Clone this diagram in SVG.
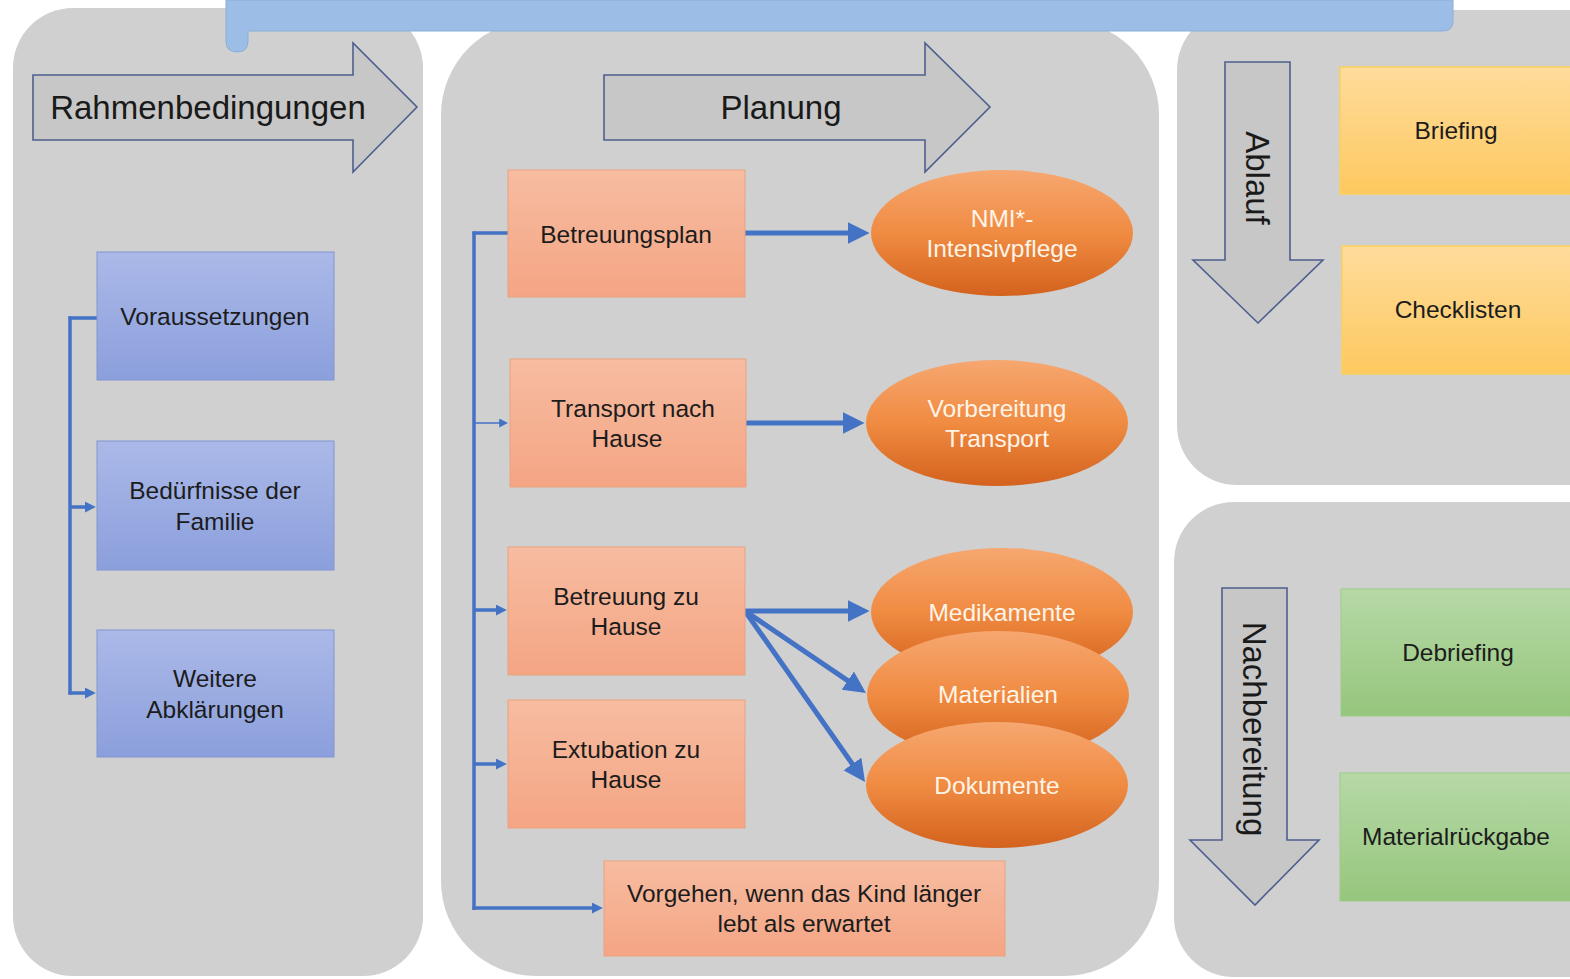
<svg xmlns="http://www.w3.org/2000/svg" width="1570" height="979" viewBox="0 0 1570 979">
<defs>
<style>
.panel{fill:#d0d0d0}
.bigarrow{fill:#c7c7c7;stroke:#4e5f8f;stroke-width:1.6}
.t{font-family:"Liberation Sans",Arial,sans-serif;font-size:24.5px;fill:#1c1c1c;text-anchor:middle}
.tw{font-family:"Liberation Sans",Arial,sans-serif;font-size:24.5px;fill:#fff4e8;text-anchor:middle}
.big{font-family:"Liberation Sans",Arial,sans-serif;font-size:33px;fill:#1a1a1a;text-anchor:middle}
.conn{stroke:#4472c4;fill:none}
</style>
<linearGradient id="gBlue" x1="0" y1="0" x2="0" y2="1"><stop offset="0" stop-color="#abb9e8"/><stop offset="1" stop-color="#8b9fdc"/></linearGradient>
<linearGradient id="gSalmon" x1="0" y1="0" x2="0" y2="1"><stop offset="0" stop-color="#f7bca1"/><stop offset="1" stop-color="#f4a584"/></linearGradient>
<linearGradient id="gYellow" x1="0" y1="0" x2="0" y2="1"><stop offset="0" stop-color="#ffdc9c"/><stop offset="1" stop-color="#fdc95f"/></linearGradient>
<linearGradient id="gGreen" x1="0" y1="0" x2="0" y2="1"><stop offset="0" stop-color="#b6d9a6"/><stop offset="1" stop-color="#96c67d"/></linearGradient>
<linearGradient id="gOrange" x1="0" y1="0" x2="0" y2="1"><stop offset="0" stop-color="#f6a770"/><stop offset="0.5" stop-color="#f08b42"/><stop offset="1" stop-color="#d3621d"/></linearGradient>
<marker id="mBig" viewBox="0 0 20 20" markerWidth="22" markerHeight="22" markerUnits="userSpaceOnUse" refX="4" refY="10" orient="auto"><path d="M0,0 L20,10 L0,20 z" fill="#4472c4"/></marker>
<marker id="mSmall" viewBox="0 0 10 10" markerWidth="11" markerHeight="11" markerUnits="userSpaceOnUse" refX="2" refY="5" orient="auto"><path d="M0,0 L10,5 L0,10 z" fill="#4472c4"/></marker>
<marker id="mTiny" viewBox="0 0 10 10" markerWidth="9" markerHeight="9" markerUnits="userSpaceOnUse" refX="2" refY="5" orient="auto"><path d="M0,0 L10,5 L0,10 z" fill="#4472c4"/></marker>
</defs>
<rect width="1570" height="979" fill="#ffffff"/>

<g id="panels">
<rect class="panel" x="13" y="8" width="410" height="968" rx="60" ry="60"/>
<rect class="panel" x="441" y="20" width="718" height="956" rx="95" ry="95"/>
<rect class="panel" x="1177" y="10" width="460" height="475" rx="60" ry="60"/>
<rect class="panel" x="1174" y="502" width="460" height="475" rx="60" ry="60"/>
</g>

<g id="topbar">
<path d="M226,0 L1453,0 L1453,21 Q1453,31 1443,31 L248,31 L248,41 Q248,52 237,52 Q226,52 226,41 Z" fill="#9cbde6" stroke="#8aaedb" stroke-width="1"/>
</g>

<g id="rahmenbedingungen">
<path class="bigarrow" d="M33,75 L353,75 L353,43 L417,107 L353,172 L353,140 L33,140 Z"/>
<text class="big" x="208" y="119">Rahmenbedingungen</text>
</g>

<g id="planung">
<path class="bigarrow" d="M604,75 L925,75 L925,43 L990,107 L925,172 L925,140 L604,140 Z"/>
<text class="big" x="781" y="119">Planung</text>
</g>

<g id="ablauf">
<path class="bigarrow" d="M1225,62 L1290,62 L1290,260 L1323,260 L1258,323 L1193,260 L1225,260 Z"/>
<text class="big" font-size="32" transform="translate(1246,178) rotate(90)" x="0" y="0">Ablauf</text>
</g>

<g id="nachbereitung">
<path class="bigarrow" d="M1222,588 L1287,588 L1287,840 L1319,840 L1255,905 L1190,840 L1222,840 Z"/>
<text class="big" font-size="32" transform="translate(1243,729) rotate(90)" x="0" y="0">Nachbereitung</text>
</g>

<g id="connectors">
<line class="conn" stroke-width="3.5" x1="70" y1="316.5" x2="70" y2="694.5"/>
<line class="conn" stroke-width="3.5" x1="68.5" y1="318" x2="100" y2="318"/>
<line class="conn" stroke-width="3.5" x1="70" y1="507" x2="87" y2="507" marker-end="url(#mSmall)"/>
<line class="conn" stroke-width="3.5" x1="68.5" y1="693" x2="87" y2="693" marker-end="url(#mSmall)"/>

<line class="conn" stroke-width="3.5" x1="474" y1="231.5" x2="474" y2="910"/>
<line class="conn" stroke-width="3.5" x1="472.5" y1="233" x2="508" y2="233"/>
<line class="conn" stroke-width="1.5" x1="474" y1="423" x2="501" y2="423" marker-end="url(#mTiny)"/>
<line class="conn" stroke-width="3.5" x1="474" y1="610" x2="498" y2="610" marker-end="url(#mSmall)"/>
<line class="conn" stroke-width="3.5" x1="474" y1="764" x2="498" y2="764" marker-end="url(#mSmall)"/>
<line class="conn" stroke-width="3.5" x1="472.5" y1="908" x2="594" y2="908" marker-end="url(#mSmall)"/>

<line class="conn" stroke-width="5" x1="745" y1="233" x2="852" y2="233" marker-end="url(#mBig)"/>
<line class="conn" stroke-width="5" x1="746" y1="423" x2="847" y2="423" marker-end="url(#mBig)"/>
<line class="conn" stroke-width="5" x1="745" y1="611" x2="852" y2="611" marker-end="url(#mBig)"/>
<line class="conn" stroke-width="5" x1="745" y1="611" x2="851.4" y2="683.1" marker-end="url(#mBig)"/>
<line class="conn" stroke-width="5" x1="745" y1="611" x2="854.9" y2="767.6" marker-end="url(#mBig)"/>
</g>

<g id="voraussetzungen">
<rect x="97" y="252" width="237" height="128" fill="url(#gBlue)" stroke="#8195d2" stroke-width="1"/>
<text class="t" x="215" y="325">Voraussetzungen</text>
</g>
<g id="beduerfnisse">
<rect x="97" y="441" width="237" height="129" fill="url(#gBlue)" stroke="#8195d2" stroke-width="1"/>
<text class="t" x="215" y="499">Bedürfnisse der</text>
<text class="t" x="215" y="530">Familie</text>
</g>
<g id="weitere">
<rect x="97" y="630" width="237" height="127" fill="url(#gBlue)" stroke="#8195d2" stroke-width="1"/>
<text class="t" x="215" y="687">Weitere</text>
<text class="t" x="215" y="718">Abklärungen</text>
</g>

<g id="betreuungsplan">
<rect x="508" y="170" width="237" height="127" fill="url(#gSalmon)" stroke="#eaa17f" stroke-width="1"/>
<text class="t" x="626" y="243">Betreuungsplan</text>
</g>
<g id="transport">
<rect x="510" y="359" width="236" height="128" fill="url(#gSalmon)" stroke="#eaa17f" stroke-width="1"/>
<text class="t" x="633" y="417">Transport nach</text>
<text class="t" x="627" y="447">Hause</text>
</g>
<g id="betreuungzuhause">
<rect x="508" y="547" width="237" height="128" fill="url(#gSalmon)" stroke="#eaa17f" stroke-width="1"/>
<text class="t" x="626" y="605">Betreuung zu</text>
<text class="t" x="626" y="635">Hause</text>
</g>
<g id="extubation">
<rect x="508" y="700" width="237" height="128" fill="url(#gSalmon)" stroke="#eaa17f" stroke-width="1"/>
<text class="t" x="626" y="758">Extubation zu</text>
<text class="t" x="626" y="788">Hause</text>
</g>
<g id="vorgehen">
<rect x="604" y="861" width="401" height="95" fill="url(#gSalmon)" stroke="#eaa17f" stroke-width="1"/>
<text class="t" x="804" y="902">Vorgehen, wenn das Kind länger</text>
<text class="t" x="804" y="932">lebt als erwartet</text>
</g>

<g id="nmi">
<ellipse cx="1002" cy="233" rx="131" ry="63" fill="url(#gOrange)"/>
<text class="tw" x="1002" y="227">NMI*-</text>
<text class="tw" x="1002" y="257">Intensivpflege</text>
</g>
<g id="vorbereitung">
<ellipse cx="997" cy="423" rx="131" ry="63" fill="url(#gOrange)"/>
<text class="tw" x="997" y="417">Vorbereitung</text>
<text class="tw" x="997" y="447">Transport</text>
</g>
<g id="medikamente">
<ellipse cx="1002" cy="612" rx="131" ry="64" fill="url(#gOrange)"/>
<text class="tw" x="1002" y="621">Medikamente</text>
</g>
<g id="materialien">
<ellipse cx="998" cy="695" rx="131" ry="64" fill="url(#gOrange)"/>
<text class="tw" x="998" y="703">Materialien</text>
</g>
<g id="dokumente">
<ellipse cx="997" cy="785" rx="131" ry="63" fill="url(#gOrange)"/>
<text class="tw" x="997" y="794">Dokumente</text>
</g>

<g id="briefing">
<rect x="1340" y="67" width="240" height="127" fill="url(#gYellow)" stroke="#fbcf5c" stroke-width="1.5"/>
<text class="t" x="1456" y="139">Briefing</text>
</g>
<g id="checklisten">
<rect x="1342" y="246" width="240" height="128" fill="url(#gYellow)" stroke="#fbcf5c" stroke-width="1.5"/>
<text class="t" x="1458" y="318">Checklisten</text>
</g>
<g id="debriefing">
<rect x="1341" y="589" width="240" height="127" fill="url(#gGreen)" stroke="#9dcb86" stroke-width="1"/>
<text class="t" x="1458" y="661">Debriefing</text>
</g>
<g id="materialrueckgabe">
<rect x="1340" y="773" width="240" height="128" fill="url(#gGreen)" stroke="#9dcb86" stroke-width="1"/>
<text class="t" x="1456" y="845">Materialrückgabe</text>
</g>
</svg>
